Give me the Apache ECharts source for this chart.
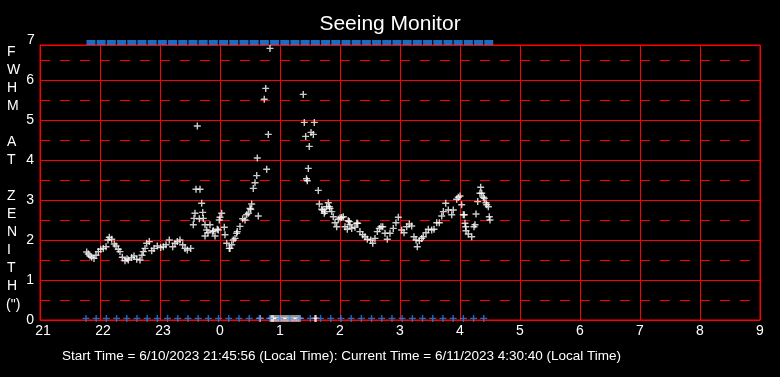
<!DOCTYPE html>
<html>
<head>
<meta charset="utf-8">
<script src="https://cdn.jsdelivr.net/npm/echarts@6/dist/echarts.min.js"></script>
<style>
  html, body { margin: 0; padding: 0; background: #000; }
  #chart { width: 780px; height: 377px; }
</style>
</head>
<body>
<div id="chart"></div>
<script>
// hours are counted from midnight of 6/10, so 25.5 means 1:30 on 6/11
const hourTicks = [21, 22, 23, 24, 25, 26, 27, 28, 29, 30, 31, 32, 33]
const fwhmLabels = ['0', '1', '2', '3', '4', '5', '6', '7']

// seeing measurements [hour, FWHM arcsec]
const seeing = [
  [21.778, 1.70], [21.805, 1.65], [21.833, 1.60], [21.861, 1.57], [21.900, 1.54],
  [21.933, 1.62], [21.972, 1.71], [22.012, 1.77], [22.055, 1.79], [22.100, 1.83],
  [22.133, 2.00], [22.155, 2.07], [22.195, 2.02], [22.238, 1.90], [22.267, 1.85],
  [22.305, 1.77], [22.333, 1.71], [22.372, 1.57], [22.417, 1.48], [22.450, 1.53],
  [22.472, 1.50], [22.528, 1.56], [22.567, 1.60], [22.612, 1.52], [22.667, 1.50],
  [22.700, 1.62], [22.722, 1.71], [22.750, 1.79], [22.778, 1.92], [22.822, 1.96],
  [22.862, 1.73], [22.900, 1.79], [22.955, 1.85], [23.012, 1.81], [23.055, 1.83],
  [23.100, 1.88], [23.155, 2.00], [23.212, 1.83], [23.250, 1.92], [23.288, 1.96],
  [23.333, 2.00], [23.378, 1.88], [23.417, 1.79], [23.455, 1.75], [23.512, 1.79],
  [23.555, 2.38], [23.567, 2.54], [23.583, 2.67], [23.600, 3.27], [23.622, 4.85],
  [23.655, 2.53], [23.667, 3.27], [23.695, 2.92], [23.712, 2.69], [23.722, 2.54],
  [23.750, 2.38], [23.750, 2.10], [23.778, 2.25], [23.800, 2.18], [23.833, 2.38],
  [23.878, 2.21], [23.888, 2.23], [23.917, 2.10], [23.955, 2.27], [23.972, 2.25],
  [23.988, 2.50], [24.000, 2.57], [24.028, 2.67], [24.072, 2.32], [24.083, 2.13],
  [24.112, 1.92], [24.155, 1.79], [24.167, 1.79], [24.195, 1.88], [24.222, 2.00],
  [24.250, 2.04], [24.278, 2.17], [24.288, 2.21], [24.333, 2.34], [24.378, 2.53],
  [24.417, 2.50], [24.445, 2.63], [24.472, 2.67], [24.500, 2.79], [24.512, 2.77],
  [24.528, 2.90], [24.555, 3.29], [24.583, 3.43], [24.612, 3.61], [24.622, 4.05],
  [24.638, 2.60], [24.738, 5.52], [24.762, 5.79], [24.778, 3.77], [24.805, 4.64],
  [24.833, 6.79],
  [25.388, 5.64], [25.405, 4.94], [25.428, 4.59], [25.442, 3.53], [25.455, 3.48],
  [25.472, 3.79], [25.488, 4.34], [25.517, 4.69], [25.555, 4.64], [25.572, 4.94],
  [25.638, 3.24], [25.655, 2.90], [25.695, 2.77], [25.712, 2.75], [25.738, 2.67],
  [25.750, 2.71], [25.778, 2.83], [25.805, 2.93], [25.822, 2.83], [25.833, 2.79],
  [25.862, 2.71], [25.888, 2.58], [25.917, 2.43], [25.945, 2.33], [25.972, 2.52],
  [26.000, 2.55], [26.028, 2.56], [26.055, 2.58], [26.083, 2.33], [26.122, 2.27],
  [26.138, 2.48], [26.155, 2.46], [26.167, 2.38], [26.195, 2.29], [26.250, 2.32],
  [26.278, 2.42], [26.295, 2.42], [26.333, 2.21], [26.378, 2.13], [26.417, 2.08],
  [26.455, 2.02], [26.512, 2.00], [26.545, 1.92], [26.583, 2.04], [26.622, 2.21],
  [26.655, 2.29], [26.683, 2.33], [26.712, 2.33], [26.750, 2.17], [26.788, 2.02],
  [26.833, 2.17], [26.888, 2.29], [26.933, 2.43], [26.972, 2.57], [27.028, 2.25],
  [27.067, 2.18], [27.112, 2.33], [27.155, 2.40], [27.195, 2.35], [27.233, 2.08],
  [27.267, 2.00], [27.288, 1.83], [27.322, 1.98], [27.362, 2.04], [27.388, 2.08],
  [27.433, 2.18], [27.472, 2.27], [27.528, 2.25], [27.567, 2.27], [27.612, 2.43],
  [27.655, 2.43], [27.695, 2.60], [27.722, 2.71], [27.762, 2.92], [27.805, 2.75],
  [27.862, 2.63], [27.888, 2.75], [27.945, 3.02], [27.972, 3.07], [28.000, 3.10],
  [28.028, 2.88], [28.055, 2.63], [28.072, 2.63], [28.083, 2.42], [28.095, 2.33],
  [28.100, 2.23], [28.138, 2.15], [28.195, 2.08], [28.233, 2.33], [28.250, 2.38],
  [28.267, 2.65], [28.295, 2.96], [28.333, 3.17], [28.345, 3.32], [28.362, 3.17],
  [28.388, 3.07], [28.405, 3.04], [28.433, 2.93], [28.445, 2.88], [28.472, 2.83],
  [28.488, 2.58], [28.500, 2.50]
]

// failed measurements, drawn on the zero line
const failedTimes = [
  24.667, 24.850, 24.867, 24.883, 24.900, 24.933, 24.967, 25.000, 25.033, 25.067,
  25.100, 25.133, 25.167, 25.200, 25.233, 25.267, 25.300, 25.333, 25.583, 25.600
]

// status marks (bottom pluses and top strip)
const statusTimes = [
  21.766, 21.936, 22.106, 22.276, 22.446, 22.616, 22.786, 22.956, 23.126, 23.296,
  23.466, 23.636, 23.806, 23.976, 24.146, 24.316, 24.486, 24.656, 24.826, 24.996,
  25.166, 25.336, 25.506, 25.676, 25.846, 26.016, 26.186, 26.356, 26.526, 26.696,
  26.866, 27.036, 27.206, 27.376, 27.546, 27.716, 27.886, 28.056, 28.226, 28.396
]

const axisTitle = ['F', 'W', 'H', 'M', 'A', 'T', 'Z', 'E', 'N', 'I', 'T', 'H', '(")']
const axisTitleY = [53, 71, 89, 107, 143, 161, 197, 215, 233, 251, 269, 287, 306]

const plus = 'path://M2.8,0H4.2V2.8H7V4.2H4.2V7H2.8V4.2H0V2.8H2.8Z'
const red = '#ff0000'
const blue = '#1e88f0'
const font = '"Liberation Sans", Arial, sans-serif'

const chart = echarts.init(document.getElementById('chart'))

const graphics = axisTitle.map((t, i) => ({
  type: 'text',
  left: t === '(")' ? 6 : 7,
  top: axisTitleY[i] - 8,
  style: { text: t, fill: '#fff', font: '14px ' + font },
}))
graphics.push({
  type: 'text',
  left: 27,
  top: 33,
  style: { text: fwhmLabels[7], fill: '#fff', font: '14px ' + font },
})
graphics.push({
  type: 'text',
  left: 62,
  top: 349,
  style: {
    text: 'Start Time = 6/10/2023 21:45:56 (Local Time): Current Time = 6/11/2023 4:30:40 (Local Time)',
    fill: '#fff',
    font: '13.5px ' + font,
  },
})

chart.setOption({
  backgroundColor: '#000',
  animation: false,
  title: {
    text: 'Seeing Monitor',
    left: 'center',
    top: 9,
    textStyle: { color: '#fff', fontSize: 21, fontWeight: 'normal', fontFamily: font },
  },
  grid: {
    left: 40,
    right: 20,
    top: 45,
    bottom: 57,
    show: true,
    borderColor: red,
    borderWidth: 1,
  },
  xAxis: {
    type: 'value',
    min: hourTicks[0],
    max: hourTicks[hourTicks.length - 1],
    interval: 1,
    axisLine: { lineStyle: { color: red } },
    axisTick: { show: false },
    axisLabel: {
      color: '#fff',
      fontSize: 14,
      fontFamily: font,
      margin: 4,
      formatter: (v) => {
        const h = v % 24
        return h >= 10 ? '{w|' + h + '}' : String(h)
      },
      rich: {
        w: { color: '#fff', fontSize: 14, fontFamily: font, padding: [0, 0, 0, 6] },
      },
    },
    splitLine: { show: true, lineStyle: { color: red, width: 1 } },
  },
  yAxis: {
    type: 'value',
    min: 0,
    max: 6.875,
    interval: 1,
    axisLine: { lineStyle: { color: red } },
    axisTick: { show: false },
    axisLabel: {
      color: '#fff',
      fontSize: 14,
      fontFamily: font,
      margin: 6,
      showMaxLabel: false,
      formatter: (v) => (Number.isInteger(v) ? fwhmLabels[v] : ''),
    },
    splitLine: { show: true, lineStyle: { color: red, width: 1 } },
    minorTick: { show: false, splitNumber: 2 },
    minorSplitLine: { show: true, lineStyle: { color: red, width: 1, type: [10, 10] } },
  },
  graphic: graphics,
  series: [
    {
      name: 'seeing',
      type: 'scatter',
      symbol: plus,
      symbolSize: 7,
      itemStyle: { color: '#fff' },
      data: seeing,
      clip: false,
    },
    {
      name: 'failed',
      type: 'scatter',
      symbol: plus,
      symbolSize: 7,
      itemStyle: { color: '#fff' },
      data: failedTimes.map((t) => [t, 0.04]),
      clip: false,
    },
    {
      name: 'status',
      type: 'scatter',
      symbol: plus,
      symbolSize: 7,
      itemStyle: { color: blue },
      data: statusTimes.map((t) => [t, 0.04]),
      clip: false,
    },
    {
      name: 'strip',
      type: 'scatter',
      symbol: 'rect',
      symbolSize: [9, 5],
      symbolOffset: [5, 0],
      itemStyle: { color: blue },
      data: statusTimes.map((t) => [t, 6.9375]),
      clip: false,
    },
  ],
})
</script>
</body>
</html>
